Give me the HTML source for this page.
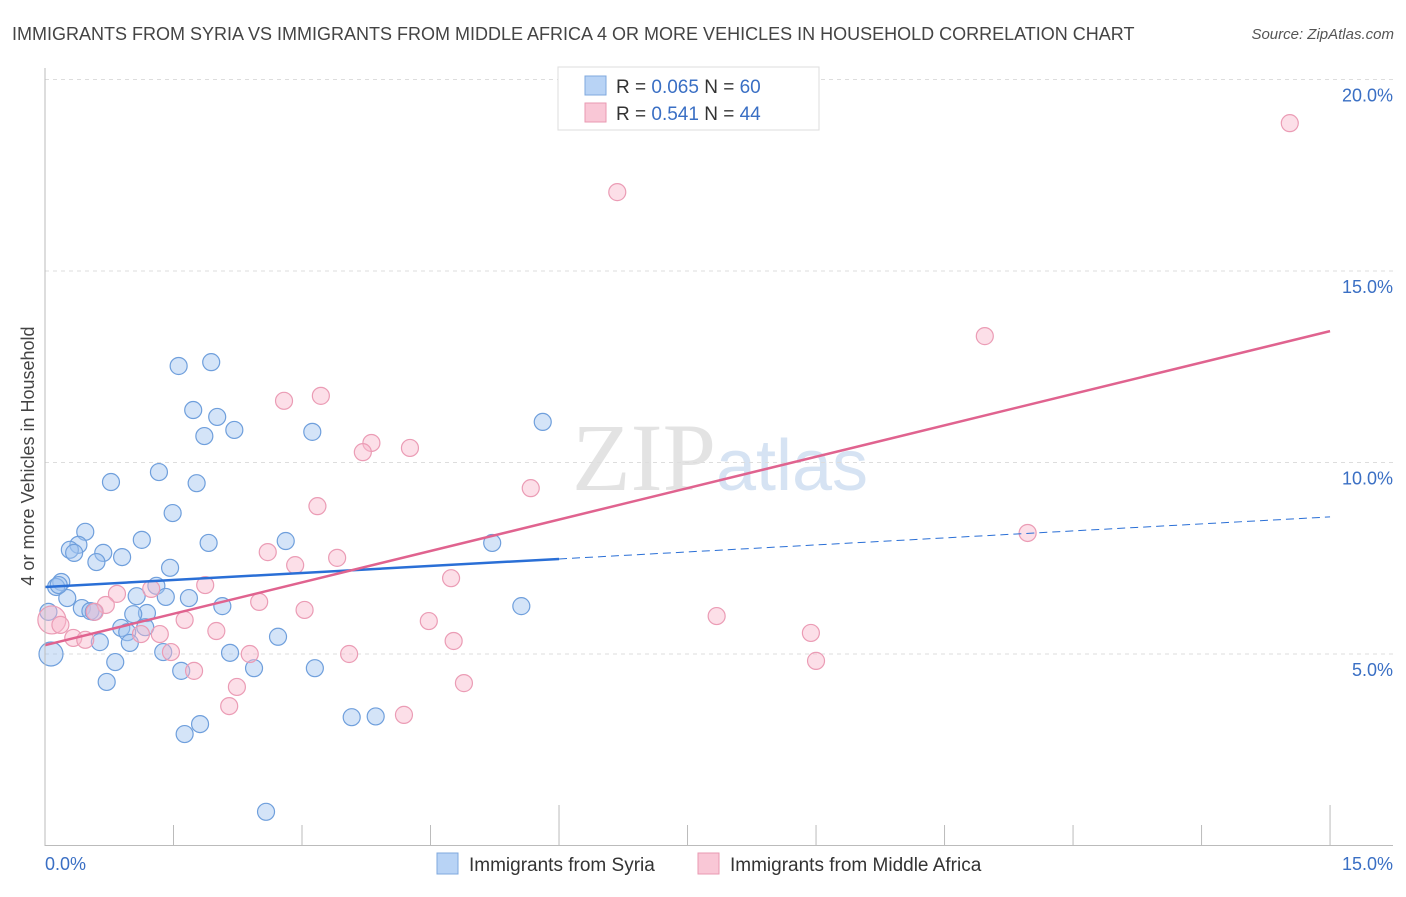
<!DOCTYPE html><html><head><meta charset="utf-8"><style>
body{margin:0;background:#fff;font-family:"Liberation Sans",sans-serif}
</style></head><body>
<svg id="c" width="1406" height="892" xmlns="http://www.w3.org/2000/svg">
<text x="12" y="40" font-size="18" fill="#444">IMMIGRANTS FROM SYRIA VS IMMIGRANTS FROM MIDDLE AFRICA 4 OR MORE VEHICLES IN HOUSEHOLD CORRELATION CHART</text>
<text x="1394" y="39" font-size="15" fill="#555" font-style="italic" text-anchor="end">Source: ZipAtlas.com</text>
<text x="720" y="490" font-size="96" fill="#e3e3e3" text-anchor="middle" font-family="Liberation Serif,serif">ZIP<tspan fill="#d6e3f3" font-family="Liberation Sans,sans-serif" font-size="72">atlas</tspan></text>
<text transform="translate(34,456) rotate(-90)" font-size="18" fill="#444" text-anchor="middle">4 or more Vehicles in Household</text>
<g id="grid"></g><g id="pts"></g><g id="lines"></g>
<line x1="45" y1="68" x2="45" y2="846" stroke="#bbb"/>
<line x1="45" y1="845.5" x2="1393" y2="845.5" stroke="#bbb"/>
<text x="45" y="870" font-size="18" fill="#3a6fc4">0.0%</text>
<text x="1393" y="870" font-size="18" fill="#3a6fc4" text-anchor="end">15.0%</text>
<g>
<rect x="558" y="67" width="261" height="63" fill="#fff" stroke="#ddd"/>
<rect x="585" y="76" width="21" height="19" fill="#b8d3f5" stroke="#7fa8de"/>
<rect x="585" y="103" width="21" height="19" fill="#f9c7d6" stroke="#e99ab2"/>
<text x="616" y="93" font-size="19" fill="#333">R = <tspan fill="#3a6fc4">0.065</tspan>   N = <tspan fill="#3a6fc4">60</tspan></text>
<text x="616" y="120" font-size="19" fill="#333">R =  <tspan fill="#3a6fc4">0.541</tspan>   N = <tspan fill="#3a6fc4">44</tspan></text>
</g>
<g>
<rect x="437" y="853" width="21" height="21" fill="#b8d3f5" stroke="#7fa8de"/>
<text x="469" y="871" font-size="19" fill="#333">Immigrants from Syria</text>
<rect x="698" y="853" width="21" height="21" fill="#f9c7d6" stroke="#e99ab2"/>
<text x="730" y="871" font-size="19" fill="#333">Immigrants from Middle Africa</text>
</g>
</svg>
<script>
const yTicks=[5,10,15,20];
const yTickLabels=["5.0%","10.0%","15.0%","20.0%"];
const xTicks=[0,1.5,3,4.5,6,7.5,9,10.5,12,13.5,15];
const syriaX=[1.56,1.94,1.73,2.01,1.86,2.21,3.12,5.81,1.33,0.77,1.77,1.49,0.47,0.39,0.29,0.34,0.68,1.13,0.90,0.60,1.91,2.81,1.46,0.19,0.13,0.26,1.07,1.30,1.41,1.68,0.43,0.53,0.57,1.19,1.03,2.07,0.89,1.17,0.96,0.64,0.99,1.38,2.72,2.16,0.82,1.59,2.44,3.15,0.72,0.07,3.58,3.86,1.81,1.63,5.22,5.56,2.58,0.16,0.04];
const syriaY=[12.52,12.62,11.37,11.19,10.69,10.85,10.80,11.06,9.75,9.49,9.46,8.68,8.19,7.85,7.72,7.64,7.64,7.98,7.53,7.40,7.90,7.95,7.25,6.88,6.75,6.46,6.51,6.78,6.49,6.46,6.20,6.12,6.10,6.07,6.04,6.25,5.68,5.70,5.57,5.31,5.29,5.05,5.45,5.03,4.79,4.56,4.63,4.63,4.27,5.00,3.35,3.37,3.17,2.91,7.90,6.25,0.88,6.80,6.10];
const africaX=[14.53,6.68,10.97,2.79,3.22,3.81,3.71,4.26,5.67,3.18,2.60,2.92,3.41,11.47,1.87,4.74,1.24,0.84,0.71,0.58,2.50,3.03,1.63,2.00,4.48,7.84,8.94,0.08,0.18,0.33,1.34,4.77,1.47,2.39,3.55,1.74,2.24,4.89,2.15,4.19,9.00,1.12,0.47];
const africaY=[18.86,17.06,13.30,11.61,11.74,10.51,10.27,10.38,9.33,8.86,7.66,7.32,7.51,8.16,6.80,6.98,6.70,6.57,6.28,6.10,6.36,6.15,5.89,5.60,5.86,5.99,5.55,5.89,5.76,5.42,5.52,5.34,5.05,5.00,5.00,4.56,4.14,4.24,3.64,3.41,4.82,5.52,5.37];
const syriaTrend=[6.75,8.58]; // at x=0 and x=15
const africaTrend=[5.23,13.43];
const xs=v=>45+v*85.67, ys=v=>845.5-v*38.3;
const NS="http://www.w3.org/2000/svg";
function mk(t,a,p){const e=document.createElementNS(NS,t);for(const k in a)e.setAttribute(k,a[k]);p.appendChild(e);return e;}
const grid=document.getElementById('grid');
yTicks.forEach((v,i)=>{
 const l=mk('line',{x1:45,x2:1393,y1:ys(v),y2:ys(v),stroke:'#ddd','stroke-dasharray':'4,4'},grid);
 
 
 const t=mk('text',{x:1393,y:ys(v)+22,'font-size':18,fill:'#3a6fc4','text-anchor':'end'},grid);
 t.textContent=yTickLabels[i];
 
 
});
xTicks.forEach((v,i)=>{
 const tall=(i==4||i==10);
 const l=mk('line',{x1:xs(v),x2:xs(v),y1:tall?805:825,y2:845,stroke:'#bbb'},grid);
 
 
});
const pts=document.getElementById('pts');
syriaX.forEach((x,i)=>{
 const big=i==49;
 const c=mk('circle',{cx:xs(x),cy:ys(syriaY[i]),r:big?12:8.5,fill:'rgba(160,195,240,0.45)',stroke:'#6f9fdc','stroke-width':1.2},pts);
 
 
});
africaX.forEach((x,i)=>{
 const big=i==27;
 const c=mk('circle',{cx:xs(x),cy:ys(africaY[i]),r:big?14:8.5,fill:'rgba(248,185,205,0.45)',stroke:'#eb9cb5','stroke-width':1.2},pts);
 
 
});
const lines=document.getElementById('lines');
const sy=x=>syriaTrend[0]+(syriaTrend[1]-syriaTrend[0])*x/15;
let l1=mk('line',{x1:xs(0),y1:ys(sy(0)),x2:xs(6),y2:ys(sy(6)),stroke:'#2a6fd6','stroke-width':2.5},lines);


let l2=mk('line',{x1:xs(6),y1:ys(sy(6)),x2:xs(15),y2:ys(sy(15)),stroke:'#2a6fd6','stroke-width':1,'stroke-dasharray':'8,5'},lines);


let l3=mk('line',{x1:xs(0),y1:ys(africaTrend[0]),x2:xs(15),y2:ys(africaTrend[1]),stroke:'#e0638f','stroke-width':2.5},lines);


</script>
</body></html>
